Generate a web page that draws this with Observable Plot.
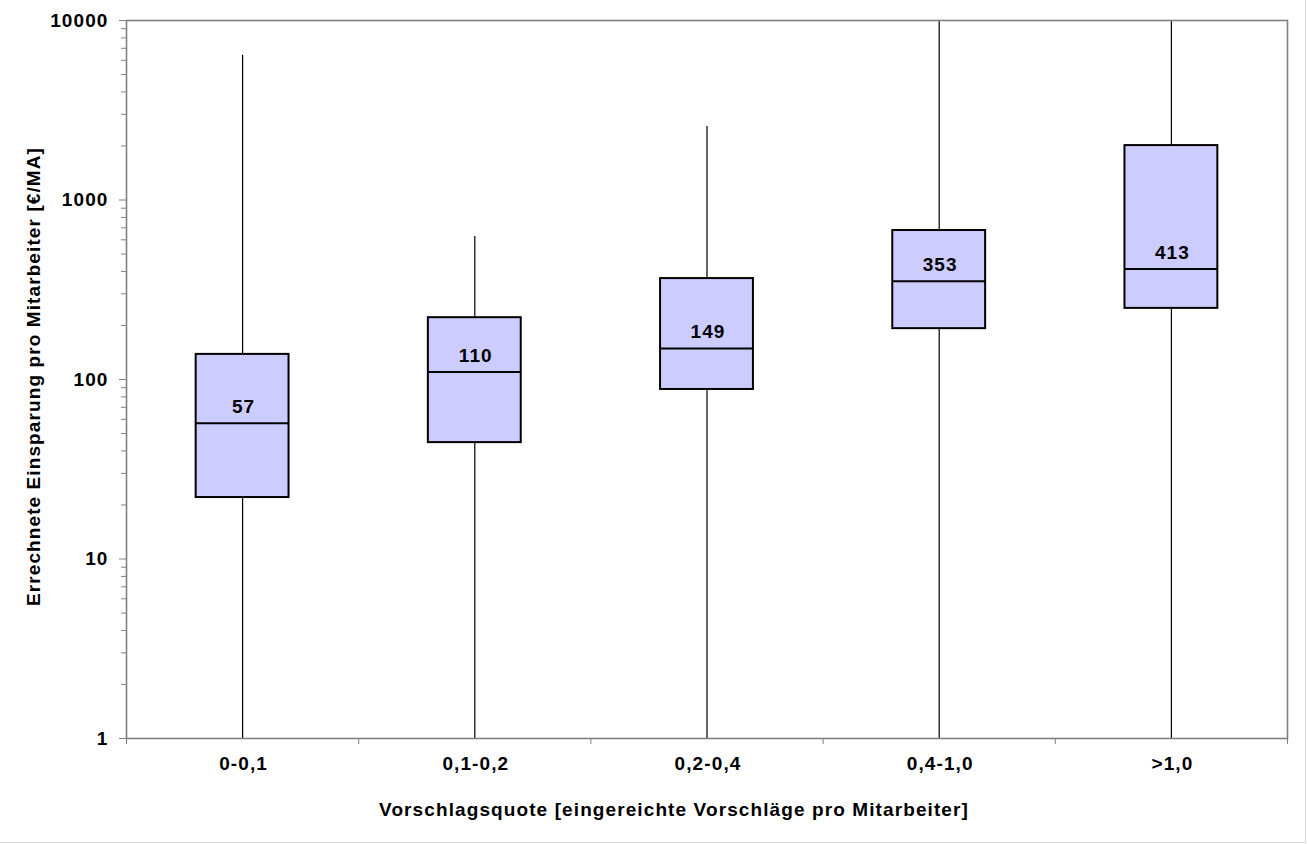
<!DOCTYPE html>
<html>
<head>
<meta charset="utf-8">
<script src="https://cdn.jsdelivr.net/npm/d3@7"></script>
<script src="https://cdn.jsdelivr.net/npm/@observablehq/plot@0.6"></script>
<style>
  html, body { margin: 0; padding: 0; background: #fff; overflow: hidden; }
  #wrap { position: relative; width: 1307px; height: 844px; }
  #wrap svg text { letter-spacing: 1.1px; }
  #edge { position: absolute; left: 0; top: 0; width: 1305px; height: 842px;
          border-right: 1px solid #d8d8d8; border-bottom: 1px solid #d8d8d8; pointer-events: none; }
</style>
</head>
<body>
<div id="wrap"><div id="edge"></div></div>
<script>
// ---- data ----
const categories = ["0-0,1", "0,1-0,2", "0,2-0,4", "0,4-1,0", ">1,0"];
const minimum = [1, 1, 1, 1, 1];
const q1 = [22, 44.5, 88, 192, 249];
const median = [57, 110, 149, 353, 413];
const q3 = [138, 221, 365, 676, 2010];
const maximum = [6400, 626, 2570, 10000, 10000];
const yMajorTicks = [1, 10, 100, 1000, 10000];
const yLabel = "Errechnete Einsparung pro Mitarbeiter [€/MA]";
const xLabel = "Vorschlagsquote [eingereichte Vorschläge pro Mitarbeiter]";

// ---- derived ----
const rows = categories.map((c, i) => ({
  c, i, min: minimum[i], q1: q1[i], med: median[i], q3: q3[i], max: maximum[i]
}));
const yMinorTicks = yMajorTicks.slice(0, -1).flatMap(d => d3.range(2, 10).map(k => k * d));
const boundaries = d3.range(categories.length + 1);

const W = 1307, H = 844;
const mL = 126, mR = 20;
const FS = 19;

const chart = Plot.plot({
  width: W,
  height: H,
  marginLeft: mL,
  marginRight: mR,
  marginTop: 20,
  marginBottom: 106,
  style: {
    fontFamily: "'Liberation Sans', Arial, sans-serif",
    fontSize: FS + "px",
    fontWeight: "bold",
    color: "black",
    background: "white"
  },
  x: { type: "linear", domain: [0, categories.length], axis: null },
  y: { type: "log", domain: [1, 10000], axis: null },
  marks: [
    // whiskers
    Plot.ruleX(rows, { x: d => d.i + 0.5, y1: "q3", y2: "max", stroke: "black", strokeWidth: 1.2 }),
    Plot.ruleX(rows, { x: d => d.i + 0.5, y1: "min", y2: "q1", stroke: "black", strokeWidth: 1.2 }),
    // boxes
    Plot.rect(rows, { x1: d => d.i + 0.3, x2: d => d.i + 0.7, y1: "q1", y2: "q3",
      fill: "#CCCCFF", stroke: "black", strokeWidth: 2 }),
    // medians
    Plot.ruleY(rows, { x1: d => d.i + 0.3, x2: d => d.i + 0.7, y: "med", stroke: "black", strokeWidth: 2 }),
    Plot.text(rows, { x: d => d.i + 0.5, y: "med", text: d => String(d.med),
      lineAnchor: "bottom", dy: -10, dx: 1, fontSize: FS, fill: "black" }),
    // frame
    Plot.frame({ stroke: "#808080", strokeWidth: 1.6 }),
    // y axis
    Plot.axisY(yMajorTicks, { tickSize: 7, tickPadding: 11, stroke: "#808080",
      fill: "black", fontSize: FS, tickFormat: d => String(d) }),
    Plot.axisY(yMinorTicks, { tickSize: 5, stroke: "#808080", tickFormat: () => "" }),
    // x axis ticks at boundaries
    Plot.axisX(boundaries, { tickSize: 6, stroke: "#808080", tickFormat: () => "" }),
    // category labels
    Plot.text(categories, { x: (d, i) => i + 0.5, frameAnchor: "bottom", dy: 31, dx: 1,
      fontSize: FS, text: d => d, fill: "black" }),
    // axis titles
    Plot.text([xLabel], { frameAnchor: "bottom", dy: 77, dx: -33, fontSize: FS, text: d => d, fill: "black" }),
    Plot.text([yLabel], { frameAnchor: "left", textAnchor: "middle", dx: 33 - mL, dy: -3, rotate: -90,
      fontSize: FS, text: d => d, fill: "black" })
  ]
});

chart.style.display = "block";
document.getElementById("wrap").prepend(chart);
</script>
</body>
</html>
